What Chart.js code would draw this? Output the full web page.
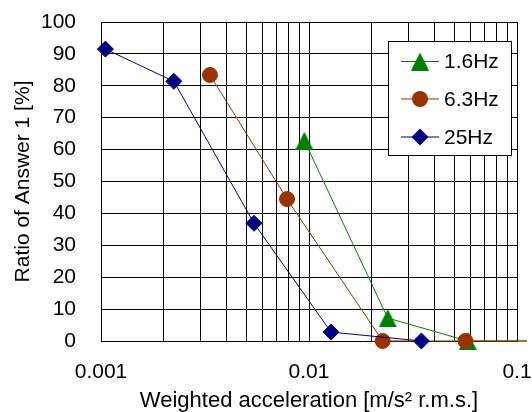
<!DOCTYPE html>
<html>
<head>
<meta charset="utf-8">
<script src="https://cdn.jsdelivr.net/npm/chart.js@4"></script>
<style>
html,body{margin:0;padding:0;background:#fff;}
#wrap{width:532px;height:412px;}
</style>
</head>
<body>
<div id="wrap"><canvas id="c" width="532" height="412"></canvas></div>
<script>
// ---- data ----
const seriesNames = ['1.6Hz', '6.3Hz', '25Hz'];
const x16 = [0.0095, 0.0239, 0.058, 0.2];
const y16 = [62.8, 7.2, 0, 0];
const x63 = [0.00334, 0.00784, 0.0226, 0.0565, 0.2];
const y63 = [83.4, 44.5, 0, 0, 0];
const x25 = [0.00105, 0.00224, 0.00544, 0.01276, 0.0347];
const y25 = [91.5, 81.4, 36.9, 2.8, 0];
const xTickValues = [0.001,0.002,0.003,0.004,0.005,0.006,0.007,0.008,0.009,
                     0.01,0.02,0.03,0.04,0.05,0.06,0.07,0.08,0.09,0.1];
const xTickLabels = {'0.001':'0.001','0.01':'0.01','0.1':'0.1'};
const yTickValues = [0,10,20,30,40,50,60,70,80,90,100];
const xTitle = 'Weighted acceleration [m/s² r.m.s.]';
const yTitle = 'Ratio of Answer 1 [%]';

const GREEN = '#008000', BROWN = '#993300', NAVY = '#000080';
const FONT = "'Liberation Sans', Arial, sans-serif";

function pts(xs, ys){ return xs.map((x,i)=>({x:x, y:ys[i]})); }

// triangle marker centered on its bounding box (Excel-style)
const tri = document.createElement('canvas');
tri.width = 18; tri.height = 18;
(function(){
  const g = tri.getContext('2d');
  g.fillStyle = GREEN;
  g.beginPath(); g.moveTo(9,0); g.lineTo(18,18); g.lineTo(0,18); g.closePath(); g.fill();
})();

const legendPlugin = {
  id: 'boxLegend',
  afterDraw(chart){
    const ctx = chart.ctx;
    ctx.save();
    const bx = 388, by = 41, bw = 123, bh = 114;
    ctx.fillStyle = '#fff';
    ctx.fillRect(bx, by, bw, bh);
    ctx.strokeStyle = '#000'; ctx.lineWidth = 1;
    ctx.strokeRect(bx + 0.5, by + 0.5, bw, bh);
    const ys = [61.5, 99, 137];
    const colors = [GREEN, BROWN, NAVY];
    ctx.font = '21px ' + FONT;
    ctx.textBaseline = 'middle';
    ctx.textAlign = 'left';
    for (let i = 0; i < 3; i++) {
      const y = ys[i];
      ctx.strokeStyle = colors[i]; ctx.lineWidth = 1.2;
      ctx.beginPath(); ctx.moveTo(401, y); ctx.lineTo(439, y); ctx.stroke();
      ctx.fillStyle = colors[i];
      if (i === 0) {
        ctx.drawImage(tri, 420 - 9, y - 9);
      } else if (i === 1) {
        ctx.beginPath(); ctx.arc(420, y, 8, 0, Math.PI*2); ctx.fill();
      } else {
        ctx.beginPath(); ctx.moveTo(420, y-8.5); ctx.lineTo(428.5, y); ctx.lineTo(420, y+8.5); ctx.lineTo(411.5, y); ctx.closePath(); ctx.fill();
      }
      ctx.fillStyle = '#000';
      ctx.fillText(seriesNames[i], 444, y + 1);
    }
    ctx.restore();
  }
};

const clipOpt = {left: 20, top: 20, right: 10, bottom: 20};
function zeroPad(s){ s.paddingTop = 0; s.paddingBottom = 0; s.paddingLeft = 0; s.paddingRight = 0; }

new Chart(document.getElementById('c'), {
  type: 'line',
  data: {
    datasets: [
      { label: seriesNames[0], data: pts(x16, y16), borderColor: GREEN, backgroundColor: GREEN,
        borderWidth: 1, pointStyle: tri, pointRadius: 9, order: 2, clip: clipOpt },
      { label: seriesNames[1], data: pts(x63, y63), borderColor: BROWN, backgroundColor: BROWN,
        borderWidth: 1, pointStyle: 'circle', pointRadius: [7.5,7.5,7.5,7.5,0], pointBorderWidth: 1,
        pointBorderColor: BROWN, order: 1, clip: clipOpt },
      { label: seriesNames[2], data: pts(x25, y25), borderColor: NAVY, backgroundColor: NAVY,
        borderWidth: 1, pointStyle: 'rectRot', pointRadius: 8, pointBorderWidth: 1,
        pointBorderColor: NAVY, order: 0, clip: clipOpt }
    ]
  },
  options: {
    responsive: false,
    animation: false,
    devicePixelRatio: 1,
    layout: { padding: { left: 0, right: 15, top: 22, bottom: 0 } },
    plugins: { legend: { display: false }, tooltip: { enabled: false } },
    elements: { line: { tension: 0 } },
    scales: {
      x: {
        type: 'logarithmic',
        min: 0.001, max: 0.1,
        afterBuildTicks(s){ s.ticks = xTickValues.map(v => ({value: v})); },
        afterFit(s){ s.height = 71; zeroPad(s); },
        grid: { color: '#000', lineWidth: 1, drawTicks: false },
        border: { color: '#000', width: 1 },
        ticks: {
          autoSkip: false, maxRotation: 0, minRotation: 0, padding: 19,
          color: '#000', font: { family: FONT, size: 21 },
          callback(v){ const k = String(+v.toPrecision(6)); return xTickLabels[k] || ''; }
        },
        title: { display: true, text: xTitle, color: '#000',
          font: { family: FONT, size: 22 }, padding: { top: 0, bottom: -2 } }
      },
      y: {
        min: 0, max: 100,
        afterBuildTicks(s){ s.ticks = yTickValues.map(v => ({value: v})); },
        afterFit(s){ s.width = 101; zeroPad(s); },
        grid: { color: '#000', lineWidth: 1, drawTicks: false },
        border: { color: '#000', width: 1 },
        ticks: { padding: 25, color: '#000', font: { family: FONT, size: 21 } },
        title: { display: true, text: yTitle, color: '#000',
          font: { family: FONT, size: 21 }, padding: { top: 11, bottom: 0 } }
      }
    }
  },
  plugins: [legendPlugin]
});
</script>
</body>
</html>
